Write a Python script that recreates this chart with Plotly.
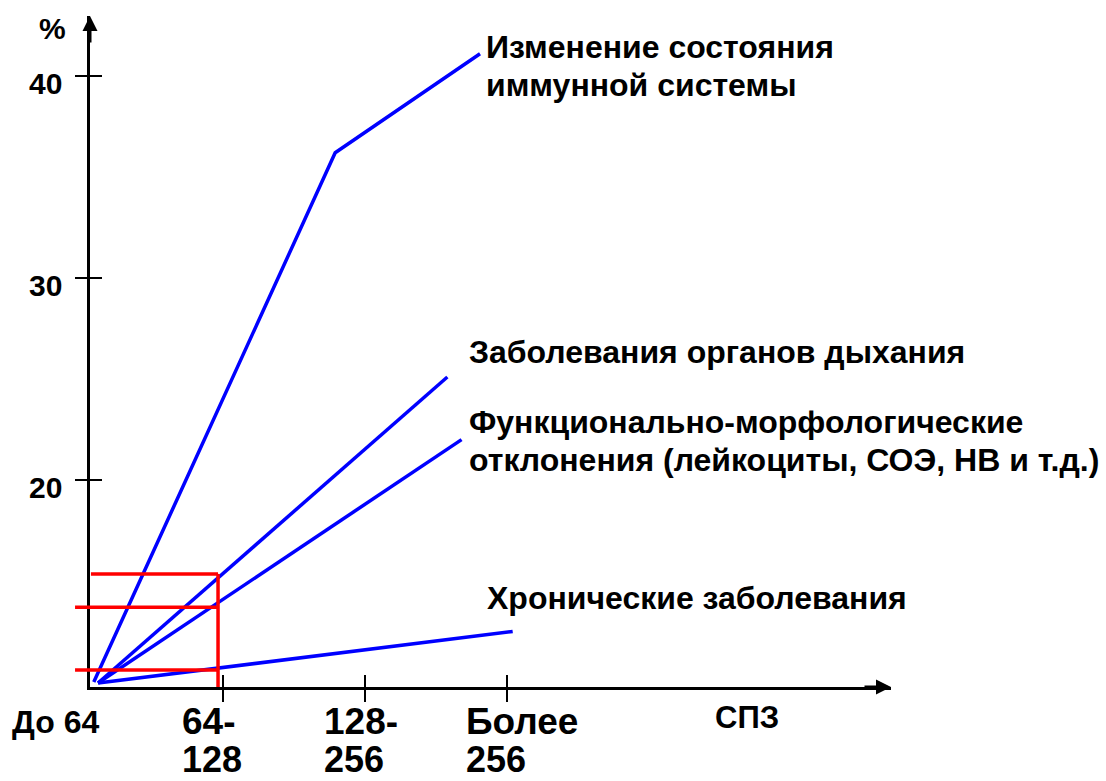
import plotly.graph_objects as go

# ---------------- data ----------------
# x positions in "SPZ group" units (1 = 64-128, 2 = 128-256, 3 = more than 256)
group_ticks = [1, 2, 3]
group_label_line1 = ["64-", "128-", "Более"]
group_label_line2 = ["128", "256", "256"]
origin_label = "До 64"
x_axis_title = "СПЗ"
y_axis_title = "%"
y_tick_values = [20, 30, 40]

immune_x = [0.09, 1.79, 2.81]
immune_y = [10.0, 36.2, 41.1]
resp_x = [0.12, 2.58]
resp_y = [9.95, 25.1]
func_x = [0.12, 2.68]
func_y = [9.95, 22.0]
chron_x = [0.12, 3.04]
chron_y = [9.95, 12.5]

label_immune = ["Изменение состояния", "иммунной системы"]
label_resp = ["Заболевания органов дыхания"]
label_func = ["Функционально-морфологические", "отклонения (лейкоциты, СОЭ, НВ и т.д.)"]
label_chron = ["Хронические заболевания"]

# red highlight at the 64-128 group
highlight_x = 0.965
highlight_values = [15.35, 13.7, 10.6]
highlight_left = [0.07, -0.042, -0.042]

# ---------------- geometry / style ----------------
W, H = 1106, 781
X0_PX, X_UNIT = 81.0, 142.0      # screen pixel of x=0, pixels per group
Y40_PX, Y_UNIT = 76.0, 20.2      # screen pixel of y=40, pixels per percent

def xval(px):
    return (px - X0_PX) / X_UNIT

def yval(py):
    return 40 - (py - Y40_PX) / Y_UNIT

def xp(px):
    return px / W

def yp(py):
    return 1 - py / H

AX_LEFT, AX_RIGHT, AX_TOP, AX_BOTTOM = 90, 891, 16, 687
RED_LEFT = 70
Y_MIN = yval(AX_BOTTOM)
FONT = "Liberation Sans, Arial, sans-serif"
BLUE = "#0000FF"
RED = "#FF0000"

fig = go.Figure()

for xs, ys in [(immune_x, immune_y), (resp_x, resp_y), (func_x, func_y), (chron_x, chron_y)]:
    fig.add_trace(go.Scatter(x=xs, y=ys, mode="lines",
                             line=dict(color=BLUE, width=3.5),
                             xaxis="x", yaxis="y", showlegend=False, hoverinfo="skip"))

# red highlight lines (in a slightly wider subplot with identical scale)
rx, ry = [], []
for left, v in zip(highlight_left, highlight_values):
    rx += [left, highlight_x, None]
    ry += [v, v, None]
rx += [highlight_x, highlight_x]
ry += [max(highlight_values), Y_MIN]
fig.add_trace(go.Scatter(x=rx, y=ry, mode="lines", line=dict(color=RED, width=3.5),
                         xaxis="x4", yaxis="y4", showlegend=False, hoverinfo="skip"))

# empty traces so overlay axes (inside ticks) are created
fig.add_trace(go.Scatter(x=[], y=[], xaxis="x2", yaxis="y", showlegend=False))
fig.add_trace(go.Scatter(x=[], y=[], xaxis="x", yaxis="y2", showlegend=False))

x_range = [xval(AX_LEFT), xval(AX_RIGHT)]
y_range = [Y_MIN, yval(AX_TOP)]
x_dom = [xp(AX_LEFT), xp(AX_RIGHT)]
y_dom = [yp(AX_BOTTOM), yp(AX_TOP)]

common_axis = dict(showgrid=False, zeroline=False, showticklabels=False, fixedrange=True)

fig.update_layout(
    width=W, height=H, autosize=False,
    margin=dict(l=0, r=0, t=0, b=0),
    paper_bgcolor="white", plot_bgcolor="rgba(0,0,0,0)",
    xaxis=dict(domain=x_dom, range=x_range, anchor="y", showline=True, linecolor="black",
               linewidth=3, ticks="outside", ticklen=12, tickwidth=2, tickcolor="black",
               tickvals=group_ticks, **common_axis),
    xaxis2=dict(domain=x_dom, range=x_range, anchor="y", overlaying="x", side="bottom",
                showline=False, ticks="inside", ticklen=12, tickwidth=2, tickcolor="black",
                tickvals=group_ticks, **common_axis),
    yaxis=dict(domain=y_dom, range=y_range, anchor="x", showline=True, linecolor="black",
               linewidth=3, ticks="outside", ticklen=12, tickwidth=2, tickcolor="black",
               tickvals=y_tick_values, **common_axis),
    yaxis2=dict(domain=y_dom, range=y_range, anchor="x", overlaying="y", side="left",
                showline=False, ticks="inside", ticklen=12, tickwidth=2, tickcolor="black",
                tickvals=y_tick_values, **common_axis),
    xaxis4=dict(domain=[xp(RED_LEFT), xp(AX_RIGHT)], range=[xval(RED_LEFT), xval(AX_RIGHT)],
                anchor="y4", visible=False, fixedrange=True),
    yaxis4=dict(domain=y_dom, range=y_range, anchor="x4", visible=False, fixedrange=True),
)

ann = []
# axis arrows
ann.append(dict(x=xp(AX_LEFT), y=yp(AX_TOP), xref="paper", yref="paper", text="",
                showarrow=True, ax=0, ay=28, arrowhead=2, arrowsize=1, arrowwidth=3,
                arrowcolor="black"))
ann.append(dict(x=xp(AX_RIGHT), y=yp(AX_BOTTOM), xref="paper", yref="paper", text="",
                showarrow=True, ax=-28, ay=0, arrowhead=2, arrowsize=1, arrowwidth=3,
                arrowcolor="black"))

def txt(text, x, y, size, xanchor="left", yanchor="middle", xref="paper", yref="paper",
        yshift=0, xshift=0):
    return dict(text="<b>" + text + "</b>", x=x, y=y, xref=xref, yref=yref,
                xanchor=xanchor, yanchor=yanchor, align="left", showarrow=False,
                xshift=xshift, yshift=yshift, borderpad=0,
                font=dict(family=FONT, size=size, color="black"))

# y tick labels
for v in y_tick_values:
    ann.append(txt(str(v), xp(63), v, 30, xanchor="right", yref="y", yshift=-7))
ann.append(txt(y_axis_title, xp(38), yp(28), 30))

# x tick labels
for t, l1, l2 in zip(group_ticks, group_label_line1, group_label_line2):
    ann.append(txt(l1, t, yp(721), 37, xref="x", xshift=-42))
    ann.append(txt(l2, t, 0, 36, xref="x", yanchor="bottom", xshift=-42))
ann.append(txt(origin_label, xp(11), yp(722), 32))
ann.append(txt(x_axis_title, xp(714), yp(717), 31))

# series labels (one annotation per text line)
LINE_STEP = 38
for lines, left, top_centre in [(label_immune, 485, 47), (label_resp, 468, 352),
                                (label_func, 468, 422), (label_chron, 486, 598)]:
    for i, line in enumerate(lines):
        ann.append(txt(line, xp(left), yp(top_centre + i * LINE_STEP), 32))

fig.update_layout(annotations=ann)

# remove the default 8px page margin so the figure fills the window exactly
fig.write_html("out.html",
               config={"displayModeBar": False, "staticPlot": True},
               post_script="document.body.style.margin='0px';document.body.style.overflow='hidden';")
